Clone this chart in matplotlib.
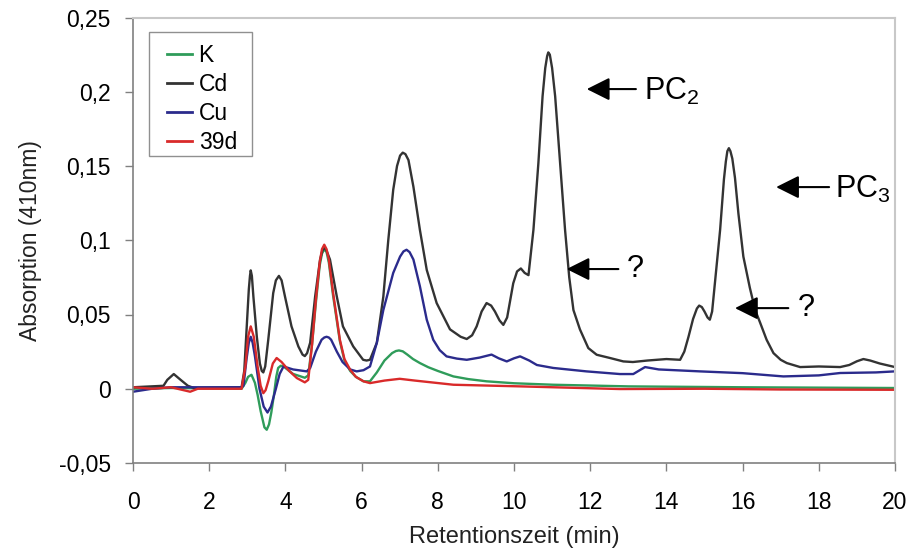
import matplotlib
matplotlib.use("Agg")
import matplotlib.pyplot as plt
from matplotlib.patches import Rectangle

plt.rcParams['font.family'] = ['Liberation Sans', 'DejaVu Sans']
plt.rcParams['mathtext.fontset'] = 'custom'
plt.rcParams['mathtext.rm'] = 'Liberation Sans'
plt.rcParams['mathtext.it'] = 'Liberation Sans'
plt.rcParams['mathtext.default'] = 'regular'

# ---- data ----
k_x = [0, 1.0, 2.85, 2.95, 3.02, 3.11, 3.2, 3.27, 3.35, 3.45, 3.51, 3.57, 3.63, 3.7, 3.76, 3.81,
       3.88, 3.95, 4.2, 4.51, 4.6, 4.7, 4.8, 4.9, 4.96, 5.02, 5.08, 5.14, 5.25, 5.43, 5.55, 5.7,
       5.85, 6.05, 6.22, 6.4, 6.6, 6.8, 6.9, 6.98, 7.08, 7.2, 7.35, 7.53, 7.75, 8.0, 8.41, 8.8,
       9.28, 10.0, 11.03, 13.0, 16.0, 20.0]
k_y = [0, 0.0005, 0, 0.004, 0.008, 0.0094, 0.004, -0.004, -0.015, -0.026, -0.0276, -0.024, -0.016,
       -0.004, 0.008, 0.014, 0.0155, 0.015, 0.010, 0.0074, 0.009, 0.03, 0.058, 0.083, 0.091, 0.094,
       0.092, 0.085, 0.063, 0.032, 0.019, 0.012, 0.008, 0.005, 0.005, 0.011, 0.019, 0.024, 0.0254,
       0.0258, 0.0252, 0.023, 0.020, 0.0173, 0.0145, 0.012, 0.0083, 0.0065, 0.005, 0.0037, 0.0027,
       0.0016, 0.001, 0.0005]

cd_x = [0, 0.8, 0.9, 1.07, 1.25, 1.44, 1.6, 2.85, 2.92, 2.98, 3.04, 3.07, 3.09, 3.12, 3.16, 3.25,
        3.33, 3.38, 3.42, 3.47, 3.55, 3.68, 3.75, 3.83, 3.9, 3.99, 4.16, 4.34, 4.45, 4.51, 4.57,
        4.65, 4.78, 4.91, 4.97, 5.02, 5.08, 5.17, 5.35, 5.51, 5.78, 6.04, 6.13, 6.22, 6.40, 6.57,
        6.70, 6.83, 6.93, 7.01, 7.08, 7.15, 7.23, 7.36, 7.53, 7.71, 7.97, 8.32, 8.6, 8.76, 8.9,
        9.02, 9.15, 9.28, 9.4, 9.50, 9.62, 9.72, 9.82, 9.98, 10.08, 10.18, 10.28, 10.38, 10.51,
        10.64, 10.75, 10.82, 10.87, 10.90, 10.94, 11.0, 11.08, 11.21, 11.34, 11.45, 11.56, 11.73,
        11.95, 12.17, 12.52, 12.87, 13.12, 13.5, 14.0, 14.36, 14.47, 14.58, 14.7, 14.8, 14.86,
        14.93, 15.0, 15.08, 15.14, 15.2, 15.28, 15.41, 15.51, 15.56, 15.6, 15.64, 15.68, 15.73,
        15.8, 15.89, 16.02, 16.19, 16.33, 16.46, 16.63, 16.81, 17.0, 17.16, 17.51, 18.0, 18.56,
        18.8, 19.0, 19.17, 19.35, 19.6, 20.0]
cd_y = [0.001, 0.002, 0.006, 0.0099, 0.006, 0.002, 0.0005, 0.001, 0.012, 0.040, 0.067, 0.076,
        0.0797, 0.076, 0.062, 0.035, 0.017, 0.012, 0.011, 0.015, 0.033, 0.0644, 0.073, 0.076, 0.073,
        0.062, 0.042, 0.0285, 0.023, 0.022, 0.024, 0.031, 0.062, 0.087, 0.093, 0.095, 0.093, 0.087,
        0.062, 0.042, 0.0285, 0.0195, 0.0190, 0.0195, 0.031, 0.062, 0.100, 0.134, 0.150, 0.157,
        0.159, 0.158, 0.154, 0.136, 0.107, 0.080, 0.0577, 0.040, 0.035, 0.0335, 0.036, 0.042, 0.052,
        0.0577, 0.056, 0.052, 0.046, 0.043, 0.048, 0.071, 0.079, 0.081, 0.078, 0.0765, 0.107, 0.152,
        0.197, 0.216, 0.224, 0.2265, 0.225, 0.216, 0.197, 0.152, 0.107, 0.075, 0.053, 0.040, 0.0274,
        0.0229, 0.0207, 0.0184, 0.018, 0.019, 0.020, 0.0195, 0.025, 0.035, 0.047, 0.054, 0.056,
        0.055, 0.052, 0.048, 0.0465, 0.052, 0.073, 0.107, 0.141, 0.153, 0.160, 0.162, 0.160, 0.155,
        0.142, 0.118, 0.089, 0.068, 0.053, 0.0445, 0.033, 0.024, 0.0195, 0.0173, 0.0146, 0.015,
        0.0146, 0.016, 0.0185, 0.020, 0.019, 0.017, 0.0146]

cu_x = [0, 0.5, 1.0, 2.85, 2.9, 2.98, 3.04, 3.09, 3.14, 3.2, 3.32, 3.43, 3.53, 3.62, 3.75, 3.85,
        3.95, 4.2, 4.56, 4.65, 4.8, 4.95, 5.02, 5.08, 5.14, 5.2, 5.35, 5.5, 5.7, 5.87, 6.05, 6.22,
        6.40, 6.57, 6.83, 7.01, 7.1, 7.18, 7.26, 7.36, 7.53, 7.71, 7.88, 8.05, 8.23, 8.5, 8.76,
        9.1, 9.41, 9.6, 9.81, 10.0, 10.16, 10.4, 10.6, 11.03, 11.9, 12.78, 13.13, 13.3, 13.44, 13.8,
        14.88, 16.0, 17.07, 18.0, 18.56, 19.5, 20.0]
cu_y = [-0.002, 0.0, 0.001, 0.001, 0.002, 0.02, 0.031, 0.035, 0.031, 0.022, 0.0, -0.012, -0.016,
        -0.012, 0.0, 0.010, 0.015, 0.013, 0.0117, 0.014, 0.025, 0.033, 0.0345, 0.035, 0.0345, 0.033,
        0.025, 0.018, 0.013, 0.0117, 0.0125, 0.015, 0.031, 0.053, 0.078, 0.089, 0.0925, 0.0936,
        0.092, 0.087, 0.069, 0.0465, 0.033, 0.026, 0.0218, 0.0203, 0.0195, 0.021, 0.023, 0.0205,
        0.0184, 0.0205, 0.0218, 0.019, 0.016, 0.014, 0.0117, 0.0099, 0.0099, 0.0125, 0.0146, 0.013,
        0.0117, 0.0105, 0.0083, 0.009, 0.0106, 0.011, 0.0117]

r_x = [0, 0.5, 1.0, 1.5, 1.7, 2.85, 2.95, 3.02, 3.09, 3.17, 3.27, 3.35, 3.42, 3.48, 3.55, 3.67,
       3.77, 3.9, 4.1, 4.3, 4.51, 4.6, 4.7, 4.8, 4.9, 4.96, 5.02, 5.08, 5.14, 5.25, 5.43, 5.55,
       5.70, 5.85, 6.05, 6.22, 6.6, 7.0, 7.4, 8.41, 10.16, 12.78, 15.0, 17.0, 20.0]
r_y = [0.001, 0.0, 0.001, -0.002, 0.0, 0.0, 0.015, 0.035, 0.042, 0.035, 0.015, 0.002, -0.003,
       -0.001, 0.005, 0.017, 0.0207, 0.018, 0.012, 0.0072, 0.0043, 0.006, 0.03, 0.06, 0.085, 0.094,
       0.097, 0.094, 0.087, 0.065, 0.033, 0.02, 0.0128, 0.008, 0.005, 0.0038, 0.0055, 0.0067,
       0.0055, 0.0027, 0.0016, -0.0002, 0.0, -0.0005, -0.0007]

series_names = ['K', 'Cd', 'Cu', '39d']
series_colors = ['#2f9c5a', '#333333', '#2b2b8c', '#d92a2a']

y_ticks = [-0.05, 0, 0.05, 0.1, 0.15, 0.2, 0.25]
y_tick_labels = ['-0,05', '0', '0,05', '0,1', '0,15', '0,2', '0,25']
x_ticks = [0, 2, 4, 6, 8, 10, 12, 14, 16, 18, 20]

# annotations: (label, arrow tip, arrow tail, text position)
ann_labels = ['PC$_2$', 'PC$_3$', '?', '?']
ann_tip = [(11.91, 0.2018), (16.88, 0.1358), (11.38, 0.0806), (15.80, 0.0543)]
ann_tail = [(13.2, 0.2018), (18.27, 0.1358), (12.74, 0.0806), (17.2, 0.0543)]
ann_text = [(13.42, 0.2005), (18.43, 0.1345), (12.97, 0.0806), (17.45, 0.0543)]

# ---- figure ----
fig = plt.figure(figsize=(9.11, 5.58), dpi=100)
ax = fig.add_axes([133 / 911, 95 / 558, 762 / 911, 445.5 / 558])

data = [(k_x, k_y), (cd_x, cd_y), (cu_x, cu_y), (r_x, r_y)]
for (xs, ys), name, col in zip(data, series_names, series_colors):
    ax.plot(xs, ys, color=col, lw=1.7, label=name, solid_joinstyle='round')

ax.set_xlim(0, 20)
ax.set_ylim(-0.05, 0.25)
ax.set_yticks(y_ticks)
ax.set_yticklabels(y_tick_labels)
ax.set_xticks(x_ticks)
ax.tick_params(axis='both', labelsize=16.5, color='#808080', length=6, width=1, direction='out')
ax.tick_params(axis='x', pad=14)
ax.tick_params(axis='y', pad=10)

for side in ['left', 'bottom']:
    ax.spines[side].set_color('#808080')
    ax.spines[side].set_linewidth(1.2)
for side in ['top', 'right']:
    ax.spines[side].set_color('#c8c8c8')
    ax.spines[side].set_linewidth(1.5)

ax.set_xlabel('Retentionszeit (min)', fontsize=17, color='#222222', labelpad=9)
ax.set_ylabel('Absorption (410nm)', fontsize=16.5, color='#222222', labelpad=12)

# legend frame drawn as a box, entries from the legend itself
ax.add_patch(Rectangle((0.021, 0.689), 0.135, 0.2785, transform=ax.transAxes,
                       facecolor='white', edgecolor='#909090', lw=1.0, zorder=4))
leg = ax.legend(loc='upper left', bbox_to_anchor=(0.0446, 0.94), borderaxespad=0,
                borderpad=0, fontsize=16.5, frameon=False, handlelength=1.1,
                handletextpad=0.28, labelspacing=0.26)
leg.set_zorder(5)
for line in leg.get_lines():
    line.set_linewidth(2.0)

for lab, tip, tail, tpos in zip(ann_labels, ann_tip, ann_tail, ann_text):
    ax.annotate('', xy=tip, xytext=tail,
                arrowprops=dict(arrowstyle='-|>,head_length=0.7,head_width=0.35',
                                mutation_scale=20, color='black', lw=1.5,
                                shrinkA=0, shrinkB=0))
    ax.text(tpos[0], tpos[1], lab, fontsize=22, va='center', ha='left', color='black')

fig.savefig('out.png', dpi=100)
